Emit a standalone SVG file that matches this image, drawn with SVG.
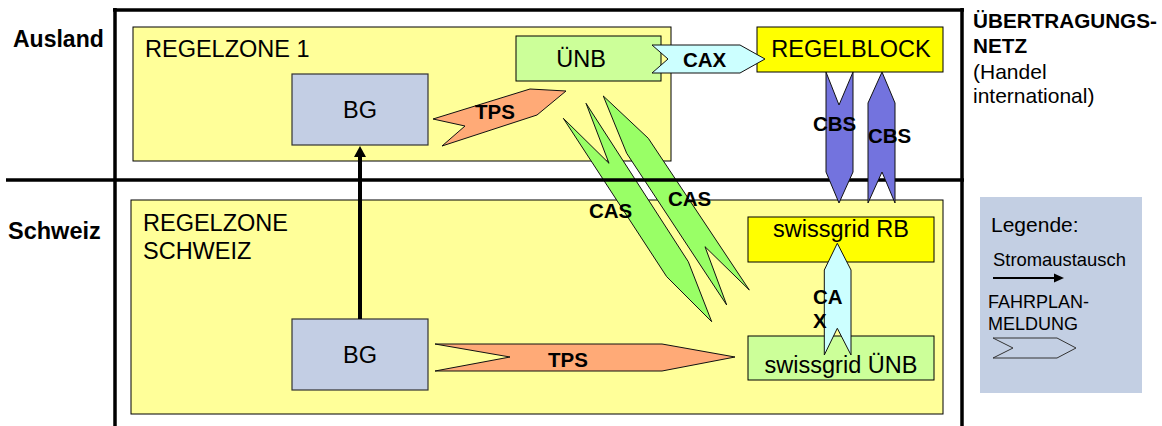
<svg xmlns="http://www.w3.org/2000/svg" width="1162" height="426" viewBox="0 0 1162 426">
<style>
text{font-family:"Liberation Sans",Arial,sans-serif;fill:#000}
.box{font-size:23.5px}
.lbl{font-size:20.5px;font-weight:bold}
.zone{fill:#FFFF99;stroke:#000;stroke-width:1}
.bg{fill:#C3CEE4;stroke:#333;stroke-width:1.2}
.frame{stroke:#000;stroke-width:3.5;fill:none}
.ar{stroke:#111;stroke-width:1}
</style>
<rect width="1162" height="426" fill="#fff"/>
<g id="region-labels">
<text x="13" y="47" style="font-size:23px;font-weight:bold">Ausland</text>
<text x="8" y="239" style="font-size:23.5px;font-weight:bold">Schweiz</text>
<text x="973" y="28" style="font-size:20.7px;font-weight:bold">ÜBERTRAGUNGS-</text>
<text x="973" y="53" style="font-size:20.7px;font-weight:bold">NETZ</text>
<text x="973" y="79" style="font-size:21px">(Handel</text>
<text x="973" y="103" style="font-size:21px">international)</text>
</g>
<g id="regelzone1">
<rect class="zone" x="133" y="27" width="538" height="134"/>
<text class="box" x="145" y="57">REGELZONE 1</text>
</g>
<g id="regelzone-schweiz">
<rect class="zone" x="131" y="200" width="812" height="214"/>
<text class="box" x="143" y="231">REGELZONE</text>
<text class="box" x="143" y="259">SCHWEIZ</text>
</g>
<g id="bg-ausland">
<rect class="bg" x="292" y="74" width="136" height="71"/>
<text class="box" x="360" y="118" text-anchor="middle">BG</text>
</g>
<g id="uenb">
<rect x="516" y="36" width="145" height="45" fill="#CCFF99" stroke="#000" stroke-width="1"/>
<text class="box" x="581" y="67" text-anchor="middle">ÜNB</text>
</g>
<g id="regelblock">
<rect x="757" y="27" width="186" height="45" fill="#FFFF00" stroke="#000" stroke-width="1"/>
<text class="box" x="851" y="57" text-anchor="middle">REGELBLOCK</text>
</g>
<g id="bg-schweiz">
<rect class="bg" x="292" y="319" width="136" height="71"/>
<text class="box" x="360" y="363" text-anchor="middle">BG</text>
</g>
<g id="swissgrid-rb">
<rect x="748" y="217" width="186" height="45" fill="#FFFF00" stroke="#000" stroke-width="1"/>
<text class="box" x="841" y="237" text-anchor="middle">swissgrid RB</text>
</g>
<g id="swissgrid-uenb">
<rect x="748" y="336" width="186" height="44" fill="#CCFF99" stroke="#000" stroke-width="1"/>
<text class="box" x="841" y="373" text-anchor="middle">swissgrid ÜNB</text>
</g>
<g id="legend">
<rect x="980" y="197" width="162" height="196" fill="#C3CFE3"/>
<text x="991" y="232" style="font-size:21px">Legende:</text>
<text x="993" y="266" style="font-size:18.4px">Stromaustausch</text>
<line x1="993" y1="278" x2="1055" y2="278" stroke="#000" stroke-width="2"/>
<polygon points="1064,278 1054,273.5 1054,282.5" fill="#000"/>
<text x="988" y="308" style="font-size:18px">FAHRPLAN-</text>
<text x="988" y="330" style="font-size:18px">MELDUNG</text>
<polygon points="993,338 1057,338 1076,348 1057,358 993,358 1013,348" fill="none" stroke="#333" stroke-width="1"/>
</g>
<g id="connectors">
<g id="cas">
<polygon class="ar" points="563.3,118.3 609,163.3 586,103.3 688.3,261.7 711.7,321.7 666.7,276.7" fill="#99FF66"/>
<polygon class="ar" points="603.3,96 648.3,138.3 749.3,290 705,246.7 726.7,305 626.7,153.3" fill="#99FF66"/>
</g>
<g id="tps">
<polygon class="ar" points="433,119 530,89 566,91 537,115 442,146 465,126" fill="#FFAA77"/>
<polygon class="ar" points="435,344 662,344 735,357 662,371 435,371 510,357" fill="#FFAA77"/>
</g>
<g id="cax">
<polygon class="ar" points="652,45 740,45 765,59 740,73 652,73 668,59" fill="#CCFFFF"/>
<polygon class="ar" points="837.3,243.3 851,270 851,355 837.3,328.3 824.3,355 824.3,270" fill="#CCFFFF"/>
</g>
<g id="stromaustausch">
<line x1="360" y1="319" x2="360" y2="155" stroke="#000" stroke-width="4"/>
<polygon points="360,146 354,157 366,157" fill="#000"/>
</g>
</g>
<g id="frame">
<line class="frame" x1="113" y1="10" x2="964" y2="10"/>
<line class="frame" x1="115" y1="8" x2="115" y2="426"/>
<line class="frame" x1="962" y1="8" x2="962" y2="426"/>
<line class="frame" x1="6" y1="180" x2="964" y2="180"/>
</g>
<g id="connectors-cbs">
<polygon class="ar" points="826,72 839,105 853,72 853,172 839,203 826,172" fill="#7373DE"/>
<polygon class="ar" points="882,72 895,103 895,203 882,172 868,203 868,103" fill="#7373DE"/>
</g>
<g id="connector-labels">
<text class="lbl" x="495" y="119" text-anchor="middle">TPS</text>
<text class="lbl" x="568" y="367" text-anchor="middle">TPS</text>
<text class="lbl" x="683" y="67">CAX</text>
<text class="lbl" x="813" y="131">CBS</text>
<text class="lbl" x="868" y="143">CBS</text>
<text class="lbl" x="589" y="218">CAS</text>
<text class="lbl" x="668" y="206">CAS</text>
<text class="lbl" x="813" y="304">CA</text>
<text class="lbl" x="813" y="328">X</text>
</g>
</svg>
